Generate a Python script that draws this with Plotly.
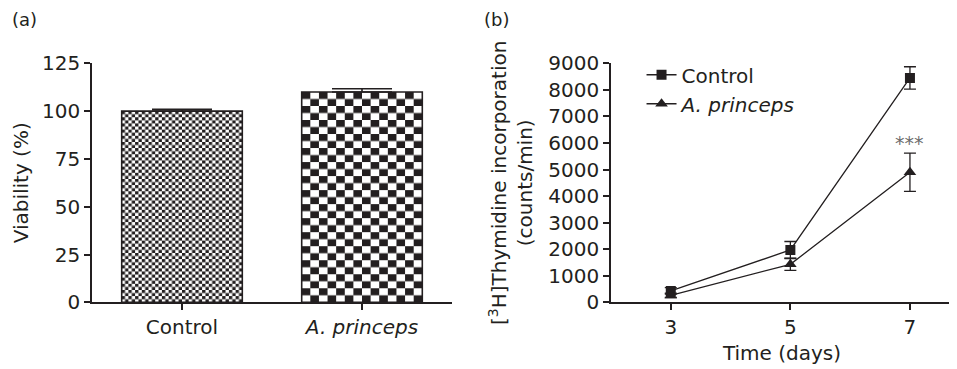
import base64
import plotly.graph_objects as go

# ---- Panel (a) data ----
groups = ["Control", "<i>A. princeps</i>"]
viability = [100, 110]
viability_err = [1.0, 1.7]

# ---- Panel (b) data ----
days = [3, 5, 7]
control_cpm = [430, 1970, 8450]
control_err = [120, 320, 420]
princeps_cpm = [260, 1430, 4900]
princeps_err = [80, 230, 720]

FONT = "DejaVu Sans"
INK = "#231f20"
FS = 20
W, H = 957, 369
OFF = 8  # default page margin of the html body

def px_x(p):
    return (p - OFF) / W

def px_y(p):
    return 1 - (p - OFF) / H

def checker_uri(cols, rows):
    svg = (
        f"<svg xmlns='http://www.w3.org/2000/svg' width='{cols}' height='{rows}' "
        f"viewBox='0 0 {cols} {rows}' preserveAspectRatio='none'>"
        "<defs><pattern id='p' width='2' height='2' patternUnits='userSpaceOnUse'>"
        "<rect width='2' height='2' fill='white'/>"
        f"<rect width='1' height='1' fill='{INK}'/>"
        f"<rect x='1' y='1' width='1' height='1' fill='{INK}'/>"
        "</pattern></defs>"
        f"<rect width='{cols}' height='{rows}' fill='url(#p)'/></svg>"
    )
    return "data:image/svg+xml;base64," + base64.b64encode(svg.encode()).decode()

bar_width = 0.67
xpos = list(range(len(groups)))
checker_grid = [(36, 62), (14, 30)]

fig = go.Figure()

fig.add_trace(go.Bar(
    x=xpos, y=viability, width=bar_width,
    marker=dict(color="rgba(0,0,0,0)", line=dict(color=INK, width=1.6)),
    error_y=dict(type="data", array=viability_err, arrayminus=[0, 0],
                 color=INK, thickness=1.6, width=30),
    xaxis="x", yaxis="y", showlegend=False,
))

images = []
for i, (v, (c, r)) in enumerate(zip(viability, checker_grid)):
    images.append(dict(
        source=checker_uri(c, r), xref="x", yref="y",
        x=xpos[i] - bar_width / 2, y=v, sizex=bar_width, sizey=v,
        xanchor="left", yanchor="top", sizing="stretch", layer="below",
    ))

fig.add_trace(go.Scatter(
    x=days, y=control_cpm, mode="lines+markers", name="Control",
    line=dict(color=INK, width=1.3),
    marker=dict(symbol="square", size=10, color=INK),
    error_y=dict(type="data", array=control_err, color=INK, thickness=1.3, width=6),
    xaxis="x2", yaxis="y2",
))
fig.add_trace(go.Scatter(
    x=days, y=princeps_cpm, mode="lines+markers", name="<i>A. princeps</i>",
    line=dict(color=INK, width=1.3),
    marker=dict(symbol="triangle-up", size=11, color=INK),
    error_y=dict(type="data", array=princeps_err, color=INK, thickness=1.3, width=6),
    xaxis="x2", yaxis="y2",
))

axis_common = dict(
    showgrid=False, zeroline=False, showline=True, linecolor=INK, linewidth=1.5,
    ticks="outside", ticklen=6, tickwidth=1.5, tickcolor=INK, automargin=False,
    tickfont=dict(family=FONT, size=FS, color=INK),
)
title_font = dict(family=FONT, size=FS, color=INK)
ydom = [px_y(302.3), px_y(63.3)]

fig.update_layout(
    template="none",
    width=W, height=H,
    margin=dict(l=0, r=0, t=0, b=0, pad=0),
    paper_bgcolor="white", plot_bgcolor="rgba(0,0,0,0)",
    font=dict(family=FONT, size=FS, color=INK),
    images=images,
    xaxis=dict(domain=[px_x(92), px_x(452)], range=[-0.5, 1.5], tickvals=xpos,
               ticktext=groups, **axis_common),
    yaxis=dict(domain=ydom, range=[0, 125], tickvals=[0, 25, 50, 75, 100, 125],
               title=dict(text="Viability (%)", font=title_font, standoff=8),
               **axis_common),
    xaxis2=dict(domain=[px_x(611), px_x(953)], range=[2, 7.72], tickvals=days, anchor="y2",
                title=dict(text="Time (days)", font=title_font, standoff=8),
                **axis_common),
    yaxis2=dict(domain=ydom, range=[0, 9000], anchor="x2",
                tickvals=[0, 1000, 2000, 3000, 4000, 5000, 6000, 7000, 8000, 9000],
                title=dict(text="[<sup>3</sup>H]Thymidine incorporation<br>(counts/min)",
                           font=title_font, standoff=10),
                **axis_common),
    legend=dict(x=0.662, y=0.872, xanchor="left", yanchor="top",
                bgcolor="rgba(0,0,0,0)", font=dict(family=FONT, size=FS, color=INK),
                tracegroupgap=0, itemwidth=30),
    annotations=[
        dict(text="***", x=7, y=6000, xref="x2", yref="y2", showarrow=False,
             font=dict(family=FONT, size=19, color="#6d6d6d")),
        dict(text="(a)", x=px_x(10), y=px_y(20), xref="paper", yref="paper",
             showarrow=False, xanchor="left", yanchor="middle",
             font=dict(family=FONT, size=18, color=INK)),
        dict(text="(b)", x=px_x(482), y=px_y(20), xref="paper", yref="paper",
             showarrow=False, xanchor="left", yanchor="middle",
             font=dict(family=FONT, size=18, color=INK)),
    ],
)

fig.write_html("out.html")
